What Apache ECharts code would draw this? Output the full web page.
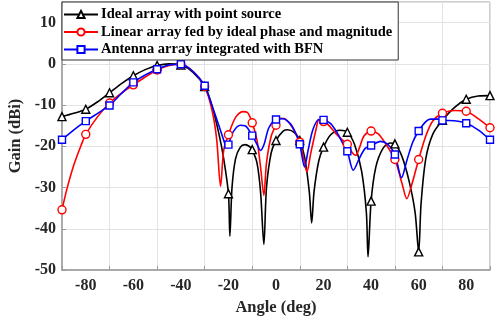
<!DOCTYPE html>
<html>
<head>
<meta charset="utf-8">
<script src="https://cdn.jsdelivr.net/npm/echarts@6/dist/echarts.min.js"></script>
<style>
  html, body { margin: 0; padding: 0; background: #fff; }
  #main { width: 498px; height: 322px; }
</style>
</head>
<body>
<div id="main"></div>
<script>
//---data----------------------------------
var seriesNames = [
    'Ideal array with point source',
    'Linear array fed by ideal phase and magnitude',
    'Antenna array integrated with BFN'
];

var blackAngle = [-90, -85, -80, -75, -70, -65, -60, -55, -50, -45, -40, -35, -30, -27, -24, -22, -20, -19.4, -18.5, -17, -15, -13, -11, -10, -8, -6.5, -5.1, -4, -2, 0, 3, 5, 8, 10, 12, 14, 15, 16, 18, 20, 23, 27, 30, 33, 36, 38, 38.7, 40, 42, 45, 48, 50, 53, 56, 58.5, 60, 61, 63, 66, 70, 75, 80, 85, 90];
var blackGain = [-12.8, -12.0, -11.0, -9.2, -7.0, -4.8, -2.9, -1.4, -0.4, 0, -0.3, -2.0, -5.5, -10, -17, -23, -31.5, -41.8, -30, -23, -20.2, -19.6, -20.1, -20.8, -24, -31, -43.8, -30, -21.5, -18.6, -16.3, -16.0, -16.8, -18.6, -22.5, -31, -38.6, -31, -23.5, -20.2, -17.2, -16.1, -16.6, -19.5, -26, -36, -46.8, -33.3, -25, -20.5, -19.2, -19.4, -22.5, -28.5, -36, -45.6, -34, -23, -17, -13.7, -10.6, -8.6, -7.8, -7.7];

var redAngle = [-90, -88, -85, -82, -80, -75, -70, -65, -60, -55, -50, -45, -40, -35, -30, -27, -25, -23.3, -22, -20, -17, -14, -12, -10, -8, -6.5, -5.1, -4, -2, 0, 2, 4, 7, 10, 12, 13, 14.5, 17, 18, 20, 22, 25, 28, 30, 32, 33.5, 35, 37, 40, 43, 46, 50, 53, 55, 57, 60, 63, 66, 70, 75, 80, 85, 90];
var redGain = [-35.4, -30.5, -24.5, -19.8, -17.1, -12.8, -9.5, -7.1, -5.1, -3.2, -1.5, -0.4, -0.1, -1.8, -5.5, -11, -18, -29.7, -21, -17.2, -13.0, -11.6, -11.8, -14.3, -18.5, -25, -31.9, -24, -17.5, -14.9, -13.2, -13.4, -15.5, -19, -24, -26.2, -22, -15.5, -13.6, -14.0, -14.8, -16.8, -18.5, -19.5, -21.5, -22.2, -20.5, -17.5, -16.3, -17.0, -19.3, -23.2, -29, -32.7, -29.5, -23.2, -17.5, -13.8, -12.0, -11.3, -11.5, -13.3, -15.5];

var blueAngle = [-90, -85, -80, -75, -70, -65, -60, -55, -50, -45, -40, -35, -30, -27, -24, -22, -20.7, -20, -18, -15, -13, -10, -8, -6.5, -5, -3, 0, 3, 6, 8, 10, 12, 13.5, 15.5, 18, 20, 23, 26, 28, 30, 32.5, 35, 37.5, 40, 44, 47, 50, 52.8, 55, 57.5, 60, 63, 65, 68, 70, 75, 80, 85, 90];
var blueGain = [-18.4, -16.0, -13.9, -12.0, -10.1, -7.2, -4.5, -2.7, -1.3, -0.3, -0.1, -1.8, -5.3, -10, -15, -18.5, -20.3, -19.6, -16.5, -14.9, -15.0, -17.4, -19.5, -21, -19.5, -15.5, -13.5, -13.3, -14.5, -16.5, -19.5, -25.0, -21, -16, -13.5, -13.6, -14.5, -17, -19.2, -21.2, -25.8, -23, -20.5, -19.8, -18.8, -19.5, -22.0, -27.6, -23.5, -19, -16.3, -14, -13.4, -13.4, -13.7, -13.8, -14.4, -16, -18.4];

var xTicks = [-80, -60, -40, -20, 0, 20, 40, 60, 80];
var yTicks = [-50, -40, -30, -20, -10, 0, 10];

//---helpers----------------------------------
var FONT = '"Liberation Serif", "Times New Roman", serif';

function makeData(angles, gains) {
    var out = [];
    for (var i = 0; i < angles.length; i++) {
        var item = { value: [angles[i], gains[i]] };
        if (angles[i] % 10 !== 0) {
            item.symbol = 'none';
        }
        out.push(item);
    }
    return out;
}

function makeSeries(name, angles, gains, color, symbol, size) {
    return {
        name: name,
        type: 'line',
        smooth: 0.3,
        data: makeData(angles, gains),
        symbol: symbol,
        symbolSize: size,
        showAllSymbol: true,
        lineStyle: { color: color, width: 1.6 },
        itemStyle: { color: '#fff', borderColor: color, borderWidth: 1.4 },
        emphasis: { disabled: true },
        z: 3
    };
}

//---chart----------------------------------
var chart = echarts.init(document.getElementById('main'), null, { renderer: 'canvas' });

var option = {
    animation: false,
    backgroundColor: '#fff',
    grid: {
        left: 62, right: 8, top: 2, bottom: 52,
        outerBoundsMode: 'none',
        show: true, borderColor: '#9a9a9a', borderWidth: 1
    },
    legend: {
        orient: 'vertical',
        left: 62, top: 2,
        padding: [5, 6, 3, 1],
        itemGap: 2.5,
        itemWidth: 34, itemHeight: 9,
        backgroundColor: '#fff',
        borderColor: '#333', borderWidth: 1,
        textStyle: { fontFamily: FONT, fontWeight: 'bold', fontSize: 14.5, color: '#000', padding: [0, 0, 0, -2] },
        data: seriesNames
    },
    xAxis: {
        type: 'value',
        min: -90, max: 90, interval: 20,
        name: 'Angle (deg)', nameLocation: 'middle', nameGap: 29,
        nameTextStyle: { fontFamily: FONT, fontWeight: 'bold', fontSize: 16.5, color: '#262626' },
        axisLine: { onZero: false, lineStyle: { color: '#9a9a9a', width: 1.5 } },
        axisTick: { inside: true, length: 4, lineStyle: { color: '#9a9a9a' } },
        axisLabel: {
            fontFamily: FONT, fontWeight: 'bold', fontSize: 16, color: '#262626', margin: 8,
            customValues: xTicks
        },
        splitLine: { lineStyle: { color: '#e3e3e3' } }
    },
    yAxis: {
        type: 'value',
        min: -50, max: 15, interval: 10,
        name: 'Gain (dBi)', nameLocation: 'middle', nameGap: 34,
        nameTextStyle: { fontFamily: FONT, fontWeight: 'bold', fontSize: 16.5, color: '#262626' },
        axisLine: { show: true, onZero: false, lineStyle: { color: '#9a9a9a', width: 1.5 } },
        axisTick: { inside: true, length: 4, lineStyle: { color: '#9a9a9a' } },
        axisLabel: {
            fontFamily: FONT, fontWeight: 'bold', fontSize: 16, color: '#262626', margin: 6,
            customValues: yTicks
        },
        splitLine: { lineStyle: { color: '#e3e3e3' } }
    },
    series: [
        makeSeries(seriesNames[0], blackAngle, blackGain, '#000000', 'triangle', 8),
        makeSeries(seriesNames[1], redAngle, redGain, '#ff0000', 'circle', 8),
        makeSeries(seriesNames[2], blueAngle, blueGain, '#0000ff', 'rect', 7)
    ]
};

chart.setOption(option);
</script>
</body>
</html>
